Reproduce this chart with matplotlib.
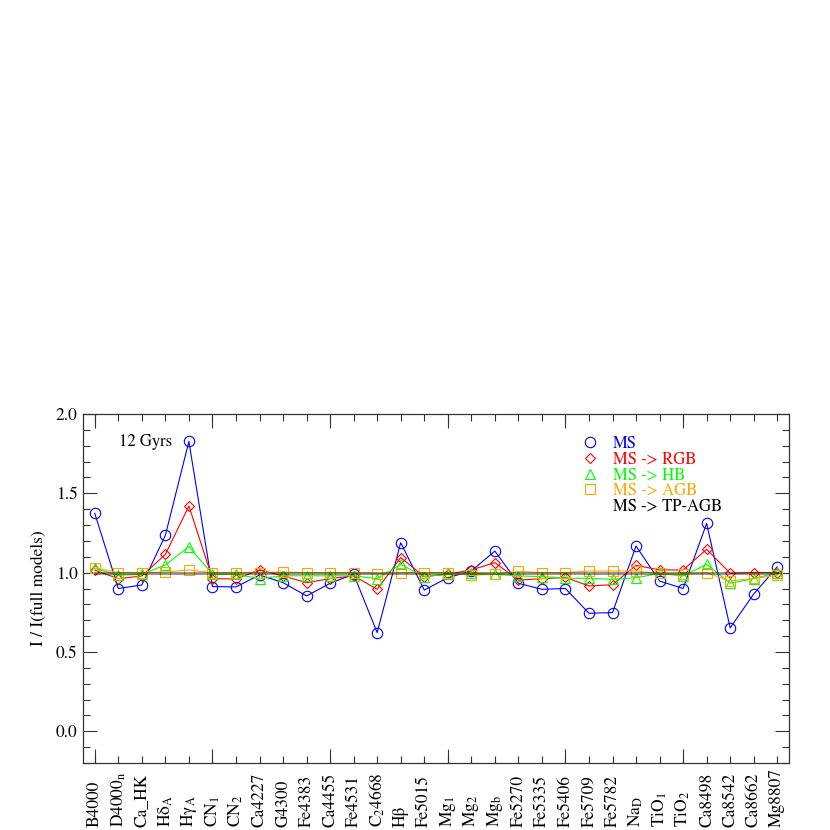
import matplotlib
matplotlib.use("Agg")
import matplotlib.pyplot as plt
from matplotlib.lines import Line2D
from matplotlib.ticker import MultipleLocator, FixedLocator

plt.rcParams['font.family'] = ['STIXGeneral', 'DejaVu Serif']
plt.rcParams['mathtext.fontset'] = 'stix'

indices = ['B4000', 'D4000$_{\\rm n}$', 'Ca_HK', 'Hδ$_{\\rm A}$', 'Hγ$_{\\rm A}$',
           'CN$_{\\rm 1}$', 'CN$_{\\rm 2}$', 'Ca4227', 'G4300', 'Fe4383', 'Ca4455', 'Fe4531',
           'C$_{\\rm 2}$4668', 'Hβ', 'Fe5015', 'Mg$_{\\rm 1}$', 'Mg$_{\\rm 2}$', 'Mg$_{\\rm b}$',
           'Fe5270', 'Fe5335', 'Fe5406', 'Fe5709', 'Fe5782', 'Na$_{\\rm D}$', 'TiO$_{\\rm 1}$',
           'TiO$_{\\rm 2}$', 'Ca8498', 'Ca8542', 'Ca8662', 'Mg8807']

ms = [1.374, 0.900, 0.922, 1.235, 1.827, 0.912, 0.910, 0.985, 0.937, 0.853,
      0.933, 0.990, 0.622, 1.189, 0.890, 0.968, 1.010, 1.136, 0.933, 0.895,
      0.900, 0.744, 0.748, 1.168, 0.947, 0.900, 1.310, 0.652, 0.865, 1.036]
ms_rgb = [1.016, 0.962, 0.979, 1.115, 1.420, 0.962, 0.960, 1.017, 0.979, 0.937,
          0.962, 0.980, 0.895, 1.095, 0.975, 0.990, 1.017, 1.063, 0.953, 0.962,
          0.970, 0.916, 0.924, 1.046, 1.017, 1.017, 1.147, 0.996, 1.000, 1.000]
ms_hb = [1.027, 0.983, 0.990, 1.048, 1.164, 0.990, 0.990, 0.962, 0.980, 0.980,
         0.980, 0.980, 0.962, 1.052, 0.975, 0.990, 0.996, 0.990, 0.979, 0.975,
         0.965, 0.964, 0.958, 0.968, 0.995, 0.979, 1.052, 0.933, 0.962, 1.000]
ms_agb = [1.030, 1.000, 1.000, 1.004, 1.017, 1.000, 1.000, 1.000, 1.004, 1.000,
          1.000, 1.000, 0.994, 1.000, 1.000, 1.000, 0.983, 0.990, 1.008, 1.000,
          1.000, 1.010, 1.010, 1.010, 0.995, 0.990, 1.000, 0.947, 0.964, 0.982]
ms_tpagb = [1.0] * 30

series = [
    ('MS', ms, 'o', '#0000ff', 7.5),
    ('MS -> RGB', ms_rgb, 'D', '#ff0000', 5.5),
    ('MS -> HB', ms_hb, '^', '#00ff00', 7.5),
    ('MS -> AGB', ms_agb, 's', '#ffa500', 7.0),
]

fig = plt.figure(figsize=(8.3, 8.3), dpi=100)
ax = fig.add_axes([83/830, 67/830, 706/830, 349/830])

x = list(range(len(indices)))
for label, vals, mk, col, msz in series:
    ax.plot(x, vals, color=col, lw=0.8, marker=mk, markersize=msz,
            markerfacecolor='none', markeredgecolor=col, markeredgewidth=0.8)
ax.plot(x, ms_tpagb, color='black', lw=2.0, alpha=0.45)

ax.set_xlim(-0.5, 29.5)
ax.set_ylim(-0.2, 2.0)

ax.xaxis.remove_overlapping_locs = False
ax.xaxis.set_major_locator(FixedLocator([0, 5, 10, 15, 20, 25]))
ax.set_xticklabels([])
ax.set_xticks(x, indices, minor=True, rotation=90, va='bottom', ha='center', fontsize=12.5)
ax.tick_params(axis='x', which='minor', direction='in', length=5, width=0.8,
               top=True, bottom=True, pad=46)
ax.tick_params(axis='x', which='major', direction='in', length=10, width=0.8,
               top=True, bottom=True)

ax.yaxis.set_major_locator(MultipleLocator(0.5))
ax.yaxis.set_minor_locator(MultipleLocator(0.1))
ax.yaxis.set_major_formatter(matplotlib.ticker.FormatStrFormatter('%.1f'))
ax.tick_params(axis='y', which='major', direction='in', length=10, width=0.8,
               left=True, right=True, labelsize=12.5, pad=4)
ax.tick_params(axis='y', which='minor', direction='in', length=5, width=0.8,
               left=True, right=True)
for sp in ax.spines.values():
    sp.set_linewidth(0.9)
    sp.set_color('#333333')
ax.tick_params(colors='#333333', which='both', labelcolor='black')

ax.set_ylabel('I / I(full models)', fontsize=12.5, labelpad=6)

ax.text(0.051, 0.92, '12 Gyrs', transform=ax.transAxes, fontsize=12, va='center', ha='left')

handles = [Line2D([], [], linestyle='none', marker=mk, markersize=msz,
                  markerfacecolor='none', markeredgecolor=col, markeredgewidth=0.8)
           for _, _, mk, col, msz in series]
handles.append(Line2D([], [], linestyle='none'))
labels = [s[0] for s in series] + ['MS -> TP-AGB']
colors = [s[3] for s in series] + ['black']
leg = ax.legend(handles, labels, loc='upper left', bbox_to_anchor=((582-83)/706, (763-436)/349),
                frameon=False, fontsize=12, handlelength=1.0, handletextpad=0.85,
                labelspacing=-0.02, borderpad=0, borderaxespad=0, labelcolor=colors)

fig.savefig('out.png', dpi=100, facecolor='white')
